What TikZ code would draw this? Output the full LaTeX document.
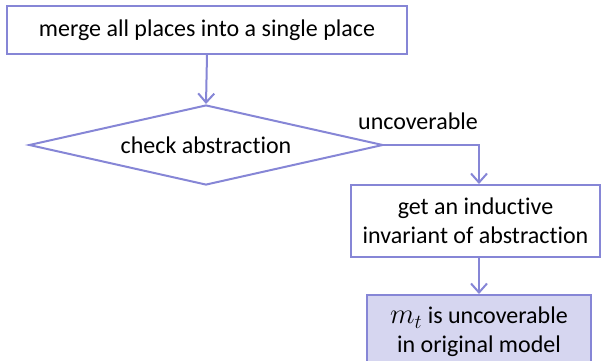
\documentclass[tikz,border=0pt]{standalone}
\usepackage{fontspec}
\setmainfont[Ligatures=NoCommon]{Carlito}
\usetikzlibrary{shapes.geometric,arrows.meta}
\definecolor{edge}{RGB}{134,134,214}
\definecolor{softfill}{RGB}{214,214,240}
\begin{document}
\begin{tikzpicture}[x=1pt,y=-1pt,
  font=\fontsize{24}{29}\selectfont,
  box/.style={draw=edge,line width=2pt,rectangle,inner sep=0pt,align=center},
  decision/.style={draw=edge,line width=2pt,diamond,inner sep=0pt,aspect=4.4},
  flow/.style={draw=edge,line width=2pt,-{Straight Barb[length=9pt,width=16pt,line width=2pt]}}]
\useasboundingbox (0,0) rectangle (603,360);
\clip (0,0) rectangle (603,360);
\node[box,minimum width=400pt,minimum height=48pt] (merge) at (207,30) {merge all places into a single place};
\node[decision,minimum width=354pt,minimum height=80pt] (check) at (206,145) {check abstraction};
\node[box,minimum width=249pt,minimum height=72pt] (inv) at (475.5,221) {get an inductive\\invariant of abstraction};
\node[box,fill=softfill,minimum width=224pt,minimum height=74pt] (res) at (479,332) {$\mathsurround=0pt\scalebox{1.15}{$m_t$}$ is uncoverable\\in original model};
\coordinate (turn) at (479,145);
\node (lbl) at (418,121) {uncoverable};
\draw[flow] (merge.south) -- (check.north);
\draw[flow] (check.east) -- (turn) -- (turn |- inv.north);
\draw[flow] (inv.south -| turn) -- (res.north -| turn);
\end{tikzpicture}
\end{document}
